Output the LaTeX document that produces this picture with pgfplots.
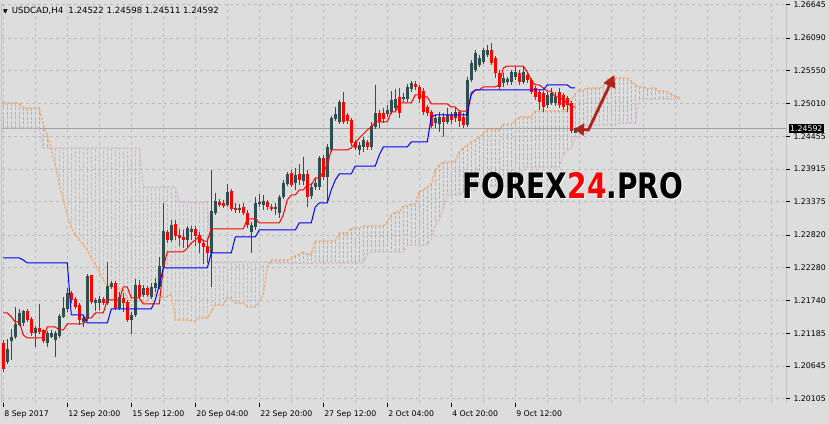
\documentclass[border=0pt]{standalone}
\usepackage{fontspec}
\setmainfont{DejaVu Sans}
\usepackage{graphicx}
\usepackage{pgfplots}
\pgfplotsset{compat=1.18}
\usepackage{pgfplotstable}
\usetikzlibrary{arrows.meta}
\definecolor{bgc}{RGB}{221,221,221}
\definecolor{gridc}{RGB}{188,188,188}
\definecolor{bullc}{RGB}{47,79,79}
\definecolor{bearc}{RGB}{255,0,0}
\definecolor{sandy}{RGB}{244,164,96}
\definecolor{thistlec}{RGB}{210,180,210}
\definecolor{arrowc}{RGB}{175,35,30}
\newcommand\tf{\fontsize{7.8bp}{9bp}\selectfont}
\newcommand\hf{\fontsize{8.6bp}{10bp}\selectfont}
\pgfplotsset{ebar/.style={only marks, mark=*, mark options={draw=none, fill=none}, mark size=0pt}}

\pgfplotstableread{
i o h l c
1 1.20714 1.21096 1.20681 1.20930
2 1.21062 1.21262 1.20747 1.21129
3 1.21129 1.21627 1.21096 1.21345
4 1.21328 1.21594 1.21311 1.21527
5 1.21361 1.21577 1.21311 1.21560
8 1.21195 1.21311 1.20963 1.21278
11 1.21029 1.21228 1.20963 1.21195
12 1.21129 1.21245 1.21112 1.21195
13 1.21079 1.21228 1.20797 1.21195
14 1.21145 1.21511 1.21112 1.21477
15 1.21461 1.21793 1.21444 1.21610
16 1.21594 1.21942 1.21544 1.21859
20 1.21378 1.21477 1.21295 1.21444
21 1.21428 1.22175 1.21394 1.22141
23 1.21693 1.21776 1.21560 1.21743
24 1.21693 1.21809 1.21577 1.21760
26 1.21693 1.22374 1.21660 1.21975
27 1.21959 1.22058 1.21926 1.22025
29 1.21610 1.21876 1.21577 1.21793
32 1.21411 1.21544 1.21179 1.21494
33 1.21494 1.22092 1.21461 1.21992
35 1.21826 1.21992 1.21793 1.21942
37 1.21793 1.22025 1.21760 1.21959
38 1.21942 1.22108 1.21876 1.22025
39 1.21959 1.22457 1.21926 1.22307
40 1.22291 1.23353 1.22258 1.22888
42 1.22739 1.23071 1.22706 1.22988
46 1.22739 1.22971 1.22606 1.22938
47 1.22872 1.22971 1.22739 1.22922
52 1.22523 1.23901 1.21959 1.23220
53 1.23187 1.23519 1.23154 1.23386
56 1.23320 1.23669 1.23287 1.23536
59 1.23237 1.23337 1.23187 1.23270
62 1.22872 1.23038 1.22523 1.22988
63 1.22955 1.23453 1.22905 1.23353
64 1.23337 1.23503 1.23287 1.23370
65 1.23320 1.23486 1.23237 1.23386
68 1.23254 1.23353 1.23154 1.23287
69 1.23187 1.23486 1.23104 1.23453
70 1.23453 1.23735 1.23420 1.23685
71 1.23669 1.23868 1.23635 1.23835
73 1.23685 1.23934 1.23569 1.23818
75 1.23718 1.24117 1.23652 1.23835
77 1.23469 1.23685 1.23420 1.23619
78 1.23619 1.23768 1.23569 1.23685
79 1.23619 1.24133 1.23569 1.24100
81 1.23785 1.24333 1.23353 1.24283
82 1.24233 1.24797 1.24200 1.24764
83 1.24748 1.24947 1.24714 1.24831
84 1.24698 1.25063 1.24665 1.25030
89 1.24233 1.24366 1.24150 1.24316
90 1.24283 1.24449 1.24200 1.24399
92 1.24283 1.24698 1.24233 1.24631
93 1.24615 1.25312 1.24582 1.24847
96 1.24831 1.24980 1.24781 1.24897
97 1.24864 1.25212 1.24831 1.25063
98 1.24930 1.25246 1.24864 1.25080
100 1.25080 1.25179 1.25030 1.25113
101 1.25080 1.25329 1.25030 1.25279
102 1.25246 1.25378 1.25196 1.25345
108 1.24681 1.24814 1.24598 1.24764
109 1.24665 1.24864 1.24532 1.24781
111 1.24698 1.24930 1.24665 1.24814
113 1.24764 1.24930 1.24698 1.24864
116 1.24648 1.25445 1.24615 1.25395
117 1.25395 1.25727 1.25362 1.25677
118 1.25561 1.25893 1.25528 1.25843
119 1.25644 1.25810 1.25611 1.25760
120 1.25694 1.25926 1.25661 1.25893
121 1.25810 1.25976 1.25777 1.25893
125 1.25345 1.25511 1.25279 1.25428
126 1.25362 1.25445 1.25312 1.25412
127 1.25362 1.25561 1.25312 1.25528
128 1.25445 1.25611 1.25395 1.25528
130 1.25362 1.25611 1.25329 1.25528
136 1.24980 1.25196 1.24930 1.25146
137 1.25013 1.25262 1.24980 1.25179
138 1.25013 1.25196 1.24963 1.25113
143 1.24522 1.24598 1.24511 1.24592
}\bull

\pgfplotstableread{
i o h l c
0 1.21029 1.21079 1.20548 1.20598
6 1.21560 1.21594 1.21378 1.21411
7 1.21428 1.21461 1.21145 1.21195
9 1.21278 1.21677 1.21179 1.21212
10 1.21245 1.21262 1.21029 1.21062
17 1.21859 1.21892 1.21693 1.21743
18 1.21760 1.21793 1.21594 1.21627
19 1.21660 1.21693 1.21328 1.21411
22 1.22158 1.22158 1.21677 1.21710
25 1.21760 1.21793 1.21660 1.21693
28 1.22025 1.22058 1.21577 1.21610
30 1.21776 1.21859 1.21544 1.21693
31 1.21710 1.21743 1.21378 1.21411
34 1.21992 1.22075 1.21760 1.21793
36 1.21942 1.21975 1.21793 1.21826
41 1.22872 1.22905 1.22689 1.22739
43 1.23005 1.23071 1.22739 1.22805
44 1.22822 1.22922 1.22639 1.22772
45 1.22789 1.22905 1.22606 1.22739
48 1.22922 1.22971 1.22639 1.22805
49 1.22822 1.22872 1.22523 1.22689
50 1.22689 1.22739 1.22341 1.22623
51 1.22639 1.22772 1.22357 1.22523
54 1.23370 1.23420 1.23287 1.23320
55 1.23353 1.23403 1.23270 1.23303
57 1.23552 1.23586 1.23220 1.23254
58 1.23270 1.23353 1.23187 1.23237
60 1.23287 1.23353 1.23154 1.23187
61 1.23187 1.23237 1.22938 1.22988
66 1.23370 1.23403 1.23237 1.23287
67 1.23287 1.23337 1.23220 1.23254
72 1.23851 1.23901 1.23619 1.23652
74 1.23835 1.24001 1.23652 1.23735
76 1.23835 1.23901 1.23287 1.23453
80 1.24100 1.24150 1.23735 1.23785
85 1.25030 1.25196 1.24665 1.24698
86 1.24814 1.24847 1.24665 1.24714
87 1.24731 1.24764 1.24299 1.24349
88 1.24366 1.24399 1.24233 1.24266
91 1.24366 1.24399 1.24233 1.24283
94 1.24847 1.24897 1.24598 1.24698
95 1.24847 1.24930 1.24681 1.24748
99 1.25113 1.25262 1.24764 1.24847
103 1.25329 1.25378 1.25229 1.25279
104 1.25279 1.25312 1.25013 1.25080
105 1.25212 1.25262 1.24814 1.24864
106 1.24947 1.24980 1.24797 1.24847
107 1.24864 1.24897 1.24598 1.24631
110 1.24781 1.24847 1.24449 1.24698
112 1.24814 1.24864 1.24665 1.24731
114 1.24864 1.24897 1.24615 1.24714
115 1.24781 1.24847 1.24598 1.24648
122 1.25893 1.26009 1.25644 1.25677
123 1.25760 1.25793 1.25428 1.25511
124 1.25511 1.25561 1.25229 1.25279
129 1.25511 1.25561 1.25312 1.25362
131 1.25478 1.25511 1.25345 1.25395
132 1.25395 1.25428 1.25163 1.25196
133 1.25262 1.25295 1.25063 1.25113
134 1.25196 1.25229 1.24897 1.25030
135 1.25179 1.25212 1.24864 1.24947
139 1.25196 1.25262 1.24930 1.24980
140 1.25146 1.25179 1.24897 1.24947
141 1.25096 1.25129 1.24864 1.24980
142 1.25013 1.25046 1.24515 1.24548
}\bear

\pgfplotstableread{
i A B
0 1.25013 1.24598
1 1.25013 1.24598
2 1.25013 1.24598
3 1.25013 1.24598
4 1.25013 1.24598
5 1.24930 1.24598
6 1.24930 1.24598
7 1.24930 1.24598
8 1.24930 1.24598
9 1.24930 1.24598
10 1.24648 1.24266
11 1.24482 1.24266
12 1.24233 1.24266
13 1.23984 1.24266
14 1.23652 1.24266
15 1.23403 1.24266
16 1.23154 1.24266
17 1.22938 1.24266
18 1.22822 1.24266
19 1.22739 1.24266
20 1.22656 1.24266
21 1.22573 1.24266
22 1.22440 1.24266
23 1.22324 1.24266
24 1.22208 1.24266
25 1.22075 1.24266
26 1.21975 1.24266
27 1.21975 1.24266
28 1.21942 1.24266
29 1.21909 1.24266
30 1.21909 1.24266
31 1.21776 1.24266
32 1.21726 1.24266
33 1.21726 1.24266
34 1.21726 1.24266
35 1.21726 1.23619
36 1.21726 1.23619
37 1.21826 1.23619
38 1.21826 1.23619
39 1.21826 1.23619
40 1.21793 1.23619
41 1.21793 1.23619
42 1.21843 1.23619
43 1.21411 1.23619
44 1.21411 1.23370
45 1.21411 1.23370
46 1.21411 1.23370
47 1.21394 1.23370
48 1.21394 1.23370
49 1.21444 1.23370
50 1.21444 1.23370
51 1.21444 1.23370
52 1.21544 1.22374
53 1.21660 1.22374
54 1.21660 1.22374
55 1.21660 1.22374
56 1.21776 1.22374
57 1.21776 1.22374
58 1.21693 1.22374
59 1.21693 1.22374
60 1.21693 1.22374
61 1.21627 1.22374
62 1.21627 1.22374
63 1.21627 1.22374
64 1.21710 1.22374
65 1.21826 1.22374
66 1.22274 1.22374
67 1.22407 1.22357
68 1.22407 1.22357
69 1.22407 1.22357
70 1.22407 1.22357
71 1.22407 1.22357
72 1.22440 1.22357
73 1.22473 1.22357
74 1.22507 1.22357
75 1.22540 1.22357
76 1.22507 1.22357
77 1.22507 1.22357
78 1.22722 1.22357
79 1.22722 1.22357
80 1.22722 1.22357
81 1.22722 1.22357
82 1.22722 1.22357
83 1.22722 1.22357
84 1.22855 1.22357
85 1.22855 1.22357
86 1.22855 1.22357
87 1.22938 1.22357
88 1.22938 1.22357
89 1.22938 1.22357
90 1.22971 1.22357
91 1.22971 1.22507
92 1.22971 1.22540
93 1.22971 1.22540
94 1.22971 1.22540
95 1.22971 1.22540
96 1.23038 1.22540
97 1.23154 1.22540
98 1.23204 1.22540
99 1.23204 1.22540
100 1.23303 1.22540
101 1.23303 1.22656
102 1.23337 1.22656
103 1.23337 1.22656
104 1.23536 1.22656
105 1.23569 1.22656
106 1.23619 1.22656
107 1.23669 1.22756
108 1.23901 1.22988
109 1.23984 1.23071
110 1.24034 1.23270
111 1.24034 1.23486
112 1.24034 1.23486
113 1.24050 1.23486
114 1.24200 1.23486
115 1.24266 1.23536
116 1.24316 1.23569
117 1.24366 1.23569
118 1.24399 1.23569
119 1.24449 1.23635
120 1.24499 1.23635
121 1.24565 1.23635
122 1.24565 1.23635
123 1.24565 1.23635
124 1.24565 1.23635
125 1.24665 1.23635
126 1.24665 1.23635
127 1.24665 1.23635
128 1.24714 1.23669
129 1.24781 1.23669
130 1.24781 1.23951
131 1.24781 1.23951
132 1.24781 1.23951
133 1.24880 1.23951
134 1.24880 1.23951
135 1.24880 1.23951
136 1.24880 1.23951
137 1.24880 1.23951
138 1.24880 1.23951
139 1.24880 1.23951
140 1.24880 1.24150
141 1.24880 1.24233
142 1.25063 1.24266
143 1.25163 1.24416
144 1.25229 1.24499
145 1.25229 1.24499
146 1.25262 1.24515
147 1.25262 1.24631
148 1.25262 1.24648
149 1.25262 1.24648
150 1.25279 1.24648
151 1.25412 1.24648
152 1.25428 1.24648
153 1.25428 1.24648
154 1.25428 1.24681
155 1.25428 1.24681
156 1.25428 1.24681
157 1.25378 1.24681
158 1.25312 1.24681
159 1.25279 1.25080
160 1.25279 1.25080
161 1.25246 1.25080
162 1.25262 1.25080
163 1.25262 1.25080
164 1.25212 1.25080
165 1.25212 1.25080
166 1.25196 1.25080
167 1.25163 1.25080
168 1.25113 1.25080
169 1.25113 1.25080
}\cloud

\begin{document}
\begin{tikzpicture}
\fill[bgc] (0,0) rectangle (829bp,424bp);
\path[use as bounding box] (0,0) rectangle (829bp,424bp);
\begin{axis}[
  at={(2bp,21bp)}, anchor=south west,
  width=784bp, height=400bp, scale only axis,
  xmin=-0.325, xmax=195.7, ymin=1.20033, ymax=1.26673,
  axis line style={draw=none},
  xtick pos=lower, ytick pos=right,
  xticklabel pos=lower, yticklabel pos=right,
  xtick={0,16,32,48,64,80,96,112,128},
  xticklabels={8 Sep 2017,12 Sep 20:00,15 Sep 12:00,20 Sep 04:00,22 Sep 20:00,27 Sep 12:00,2 Oct 04:00,4 Oct 20:00,9 Oct 12:00},
  minor xtick={8,24,40,56,72,88,104,120,136,144,152,160,168,176,184,192},
  ytick={1.20105,1.20645,1.21185,1.21740,1.22280,1.22820,1.23375,1.23915,1.24455,1.25010,1.25550,1.26090,1.26645},
  yticklabels={1.20105,1.20645,1.21185,1.21740,1.22280,1.22820,1.23375,1.23915,1.24455,1.25010,1.25550,1.26090,1.26645},
  grid=both,
  major grid style={gridc, dash pattern=on 3bp off 3bp, line width=0.7bp},
  minor grid style={gridc, dash pattern=on 3bp off 3bp, line width=0.7bp},
  tick align=outside, major tick length=4bp, minor tick length=0pt,
  major tick style={black, line width=0.8bp},
  tick label style={font=\tf, text=black},
  xticklabel style={anchor=north west, xshift=-2.5bp},
  yticklabel style={anchor=west},
  clip=true,
]
% current price line
\addplot[color=gridc!85!black, line width=0.6bp] coordinates {(-1,1.24592) (197,1.24592)};
% cloud hatch (one dotted vertical stroke per bar, from Senkou A to Senkou B)
\addplot[sandy, line width=1.1bp, dash pattern=on 3bp off 1.5bp, mark=none, restrict x to domain=0:11,
  quiver={u=0, v=\thisrow{B}-\thisrow{A}}] table[x=i, y=A] {\cloud};
\addplot[thistlec, line width=1.1bp, dash pattern=on 3bp off 1.5bp, mark=none, restrict x to domain=12:66,
  quiver={u=0, v=\thisrow{B}-\thisrow{A}}] table[x=i, y=A] {\cloud};
\addplot[sandy, line width=1.1bp, dash pattern=on 3bp off 1.5bp, mark=none, restrict x to domain=67:169,
  quiver={u=0, v=\thisrow{B}-\thisrow{A}}] table[x=i, y=A] {\cloud};
% senkou lines
\addplot[thistlec, line width=1.1bp, dash pattern=on 2.5bp off 1.5bp] table[x=i, y=B] {\cloud};
\addplot[sandy, line width=1.1bp, dash pattern=on 2.5bp off 1.5bp] table[x=i, y=A] {\cloud};
% wicks
\addplot[ebar, error bars/.cd, y dir=minus, y explicit, error mark=none,
  error bar style={bullc, line width=1bp}]
  table[x=i, y=h, y error minus expr={\thisrow{h}-\thisrow{l}}] {\bull};
\addplot[ebar, error bars/.cd, y dir=minus, y explicit, error mark=none,
  error bar style={bearc, line width=1bp}]
  table[x=i, y=h, y error minus expr={\thisrow{h}-\thisrow{l}}] {\bear};
% bodies
\addplot[ebar, error bars/.cd, y dir=minus, y explicit, error mark=none,
  error bar style={bullc, line width=3bp, line cap=butt}]
  table[x=i, y=c, y error minus expr={\thisrow{c}-\thisrow{o}}] {\bull};
\addplot[ebar, error bars/.cd, y dir=minus, y explicit, error mark=none,
  error bar style={bearc, line width=3bp, line cap=butt}]
  table[x=i, y=o, y error minus expr={\thisrow{o}-\thisrow{c}}] {\bear};
% tenkan-sen
\addplot[red, line width=1bp] coordinates {(0,1.21527)(1,1.21527)(2,1.21461)(3,1.21378)(4,1.21378)(5,1.21162)(6,1.21112)(10,1.21112)(11,1.21295)(13,1.21295)(14,1.21245)(15,1.21245)(16,1.21345)(20,1.21345)(21,1.21444)(22,1.21444)(23,1.21527)(25,1.21527)(26,1.21743)(29,1.21743)(30,1.21959)(31,1.21959)(32,1.21776)(34,1.21776)(35,1.21677)(39,1.21677)(40,1.22274)(41,1.22540)(45,1.22540)(46,1.22606)(47,1.22689)(48,1.22739)(49,1.22805)(50,1.22722)(51,1.22722)(52,1.22922)(60,1.22922)(61,1.23088)(63,1.23088)(64,1.23021)(69,1.23021)(70,1.23154)(71,1.23403)(72,1.23486)(73,1.23486)(74,1.23569)(75,1.23569)(76,1.23652)(77,1.23652)(78,1.23768)(79,1.23768)(80,1.23868)(81,1.23984)(82,1.24233)(86,1.24233)(87,1.24266)(88,1.24349)(89,1.24432)(90,1.24499)(91,1.24565)(92,1.24615)(93,1.24698)(96,1.24698)(97,1.24864)(98,1.24864)(99,1.25013)(102,1.25013)(103,1.25146)(104,1.25146)(105,1.25113)(106,1.25113)(107,1.24997)(111,1.24997)(112,1.24947)(113,1.24947)(114,1.24880)(116,1.24880)(117,1.25146)(118,1.25229)(119,1.25229)(120,1.25279)(123,1.25279)(124,1.25312)(125,1.25594)(126,1.25627)(130,1.25627)(131,1.25528)(132,1.25395)(133,1.25312)(134,1.25312)(135,1.25262)(136,1.25212)(137,1.25212)(138,1.25113)(139,1.25113)(140,1.25063)(141,1.25013)(142,1.24947)(143,1.24947)};
% kijun-sen
\addplot[blue, line width=1bp] coordinates {(0,1.22440)(4,1.22440)(5,1.22407)(6,1.22357)(16,1.22357)(17,1.21494)(20,1.21494)(21,1.21361)(26,1.21361)(27,1.21594)(37,1.21594)(38,1.21743)(39,1.21992)(40,1.22274)(51,1.22274)(52,1.22523)(57,1.22523)(58,1.22789)(63,1.22789)(64,1.22905)(73,1.22905)(74,1.23021)(77,1.23021)(78,1.23287)(79,1.23353)(81,1.23353)(82,1.23569)(83,1.23735)(84,1.23835)(87,1.23835)(88,1.23967)(93,1.23967)(94,1.24150)(95,1.24283)(101,1.24283)(102,1.24366)(106,1.24366)(107,1.24781)(108,1.24814)(116,1.24814)(117,1.25179)(118,1.25229)(135,1.25229)(136,1.25312)(141,1.25312)(142,1.25262)(143,1.25262)};
% arrow annotation
\draw[arrowc, line width=2.8bp, {Triangle[length=10bp,width=12bp]}-{Triangle[length=12bp,width=12bp]}]
  (axis cs:142.7,1.24582) -- (axis cs:146.3,1.24565) -- (axis cs:152.8,1.25478);
% frame lines
\draw[black, line width=1bp] (rel axis cs:0,0) -- (rel axis cs:1,0) -- (rel axis cs:1,1);
\draw[black, line width=1bp] (rel axis cs:0,0) -- (rel axis cs:0,1);
\end{axis}
% price box
\node[fill=black, text=white, anchor=west, inner xsep=1.5bp, inner ysep=1.2bp, font=\tf] at (788.5bp,295.6bp) {1.24592};
% header
\node[anchor=west, inner sep=0, font=\hf] at (3bp,413bp) {\scalebox{0.7}{▼}\hspace{4bp}USDCAD,H4\hspace{5bp}1.24522 1.24598 1.24511 1.24592};
% watermark
\node[anchor=south west, inner sep=0, text=white] at (463bp,224bp) {\resizebox{221bp}{26bp}{\bfseries FOREX24.PRO}};
\node[anchor=south west, inner sep=0] at (462bp,225bp) {\resizebox{221bp}{26bp}{\bfseries FOREX\textcolor{red}{24}.PRO}};
\end{tikzpicture}
\end{document}
